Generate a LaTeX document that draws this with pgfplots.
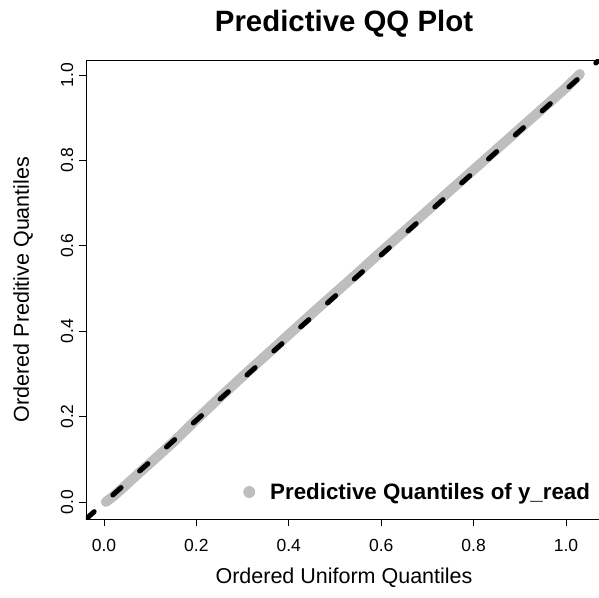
\documentclass[border=0pt]{standalone}
\usepackage{fontspec}
\setmainfont{Liberation Sans}
\usepackage{pgfplots}
\pgfplotsset{compat=1.18}
\definecolor{rgray}{RGB}{190,190,190}
\begin{document}
\begin{tikzpicture}
\useasboundingbox (-86pt,-78pt) rectangle (513pt,519pt);
\begin{axis}[
  at={(0,0)}, anchor=south west,
  scale only axis, width=516pt, height=459pt,
  xmin=-0.039, xmax=1.078, ymin=-0.04, ymax=1.035,
  xtick={0,0.2,0.4,0.6,0.8,1.0}, ytick={0,0.2,0.4,0.6,0.8,1.0},
  xticklabels={0.0,0.2,0.4,0.6,0.8,1.0},
  yticklabels={0.0,0.2,0.4,0.6,0.8,1.0},
  xtick pos=bottom, ytick pos=left,
  tick align=outside, major tick length=7pt,
  axis line style={black, line width=0.8pt},
  tick style={black, line width=0.8pt},
  ticklabel style={font=\fontsize{17.5}{17.5}\selectfont},
  xticklabel style={anchor=center, yshift=-19pt},
  yticklabel style={anchor=center, xshift=-12pt, rotate=90},
  xlabel={Ordered Uniform Quantiles},
  ylabel={Ordered Preditive Quantiles},
  xlabel style={at={(axis description cs:0.5,-0.1285)}, anchor=center, font=\fontsize{21.5}{21.5}\selectfont},
  ylabel style={at={(axis description cs:-0.1221,0.5)}, anchor=center, font=\fontsize{21.5}{21.5}\selectfont},
  title={Predictive QQ Plot},
  title style={at={(axis description cs:0.5,1.0654)}, anchor=center, font=\bfseries\fontsize{29.4}{29.4}\selectfont},
  legend style={at={(axis description cs:1,0.0588)}, anchor=east, xshift=-10pt, draw=none, fill=none, inner sep=0pt, outer sep=0pt, font=\bfseries\fontsize{22.3}{22.3}\selectfont},
  legend cell align=left,
]
\addplot[rgray, line width=10pt, line cap=round, line join=round,
  legend image code/.code={\path[draw=none, fill=none] (0pt,-6pt) rectangle (25pt,6pt); \fill[rgray, draw=none, line width=0pt] (6pt,0) circle (6pt);}]
  coordinates {(0.004,0.000) (0.02,0.013) (0.05,0.042) (0.075,0.067) (0.10,0.091) (0.15,0.140) (0.20,0.193) (0.25,0.244) (0.30,0.294) (0.35,0.343) (0.40,0.392) (0.45,0.441) (0.50,0.489) (0.55,0.537) (0.60,0.586) (0.65,0.634) (0.70,0.682) (0.75,0.730) (0.80,0.778) (0.85,0.826) (0.90,0.874) (0.95,0.922) (1.00,0.970) (1.03,1.002)};
\addlegendentry{Predictive Quantiles of y\_read}
\addplot[black, line width=5pt, line cap=round, dash pattern=on 11pt off 25pt, forget plot]
  coordinates {(-0.039,-0.040) (1.078,1.041)};
\end{axis}
\end{tikzpicture}
\end{document}
